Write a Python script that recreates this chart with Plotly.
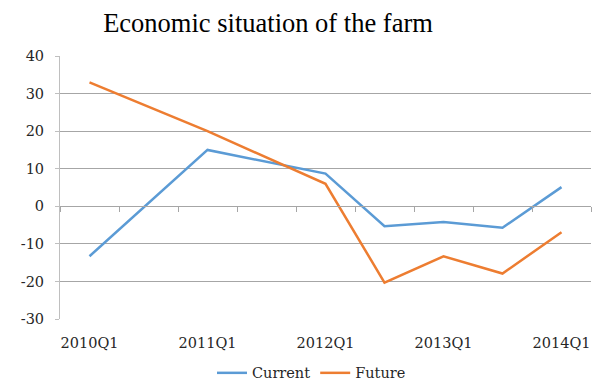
import plotly.graph_objects as go

categories = ["2010Q1", "2010Q3", "2011Q1", "2011Q3", "2012Q1",
              "2012Q3", "2013Q1", "2013Q3", "2014Q1"]
x_tick_labels = ["2010Q1", "2011Q1", "2012Q1", "2013Q1", "2014Q1"]
y_tick_values = [-30, -20, -10, 0, 10, 20, 30, 40]
y_tick_labels = ["-30", "-20", "-10", "0", "10", "20", "30", "40"]
current = [-13.3, None, 15.0, None, 8.7, -5.3, -4.2, -5.7, 5.1]
future = [33.0, None, 20.0, None, 6.0, -20.3, -13.3, -17.9, -6.9]

FONT = "DejaVu Serif"
TITLE_FONT = "Liberation Serif"
BLUE = "#5b9bd5"
ORANGE = "#ed7d31"
GRID = "#a6a6a6"
AXIS = "#bfbfbf"
TEXT = "#262626"

fig = go.Figure()
fig.add_trace(go.Scatter(x=categories, y=current, name="Current", mode="lines",
                         line=dict(color=BLUE, width=2.5), connectgaps=True))
fig.add_trace(go.Scatter(x=categories, y=future, name="Future", mode="lines",
                         line=dict(color=ORANGE, width=2.5), connectgaps=True))
# carrier trace for the label axis
fig.add_trace(go.Scatter(x=categories, y=[None] * len(categories), xaxis="x2",
                         showlegend=False, hoverinfo="skip", mode="lines"))

# page body has an 8px default margin; figure is sized to compensate
fig.update_layout(
    width=595, height=381,
    margin=dict(l=52, r=12, t=48, b=70, autoexpand=False),
    paper_bgcolor="white", plot_bgcolor="white",
    font=dict(family=FONT, size=14.5, color=TEXT),
    title=dict(text="Economic situation of the farm", x=0.437, xanchor="center",
               y=0.961, yanchor="middle",
               font=dict(family=TITLE_FONT, size=26.5, color="#000000")),
    xaxis=dict(type="category", categoryorder="array", categoryarray=categories,
               range=[-0.5, 8.5], anchor="free", position=30 / 70, automargin=False,
               showline=True, linecolor=GRID, linewidth=1,
               ticks="outside", tickson="boundaries", ticklen=5, tickcolor=GRID,
               showticklabels=False, showgrid=False, zeroline=False),
    xaxis2=dict(type="category", categoryorder="array", categoryarray=categories,
                range=[-0.5, 8.5], overlaying="x", anchor="y", side="bottom",
                automargin=False,
                showline=False, ticks="", tickvals=x_tick_labels, ticktext=x_tick_labels,
                ticklabelstandoff=13, showgrid=False, zeroline=False,
                tickfont=dict(family=FONT, size=14.5, color=TEXT)),
    yaxis=dict(range=[-30, 40], tickvals=y_tick_values, ticktext=y_tick_labels,
               automargin=False,
               showgrid=True, gridcolor=GRID, gridwidth=1,
               showline=True, linecolor=AXIS, linewidth=1,
               ticks="outside", ticklen=4, tickcolor=AXIS, ticklabelstandoff=8,
               zeroline=False, tickfont=dict(family=FONT, size=14.5, color=TEXT)),
    legend=dict(orientation="h", x=0.4736, xanchor="center", y=-0.205, yanchor="middle",
                font=dict(family=FONT, size=14.5, color=TEXT)),
)

fig.write_html("out.html")
